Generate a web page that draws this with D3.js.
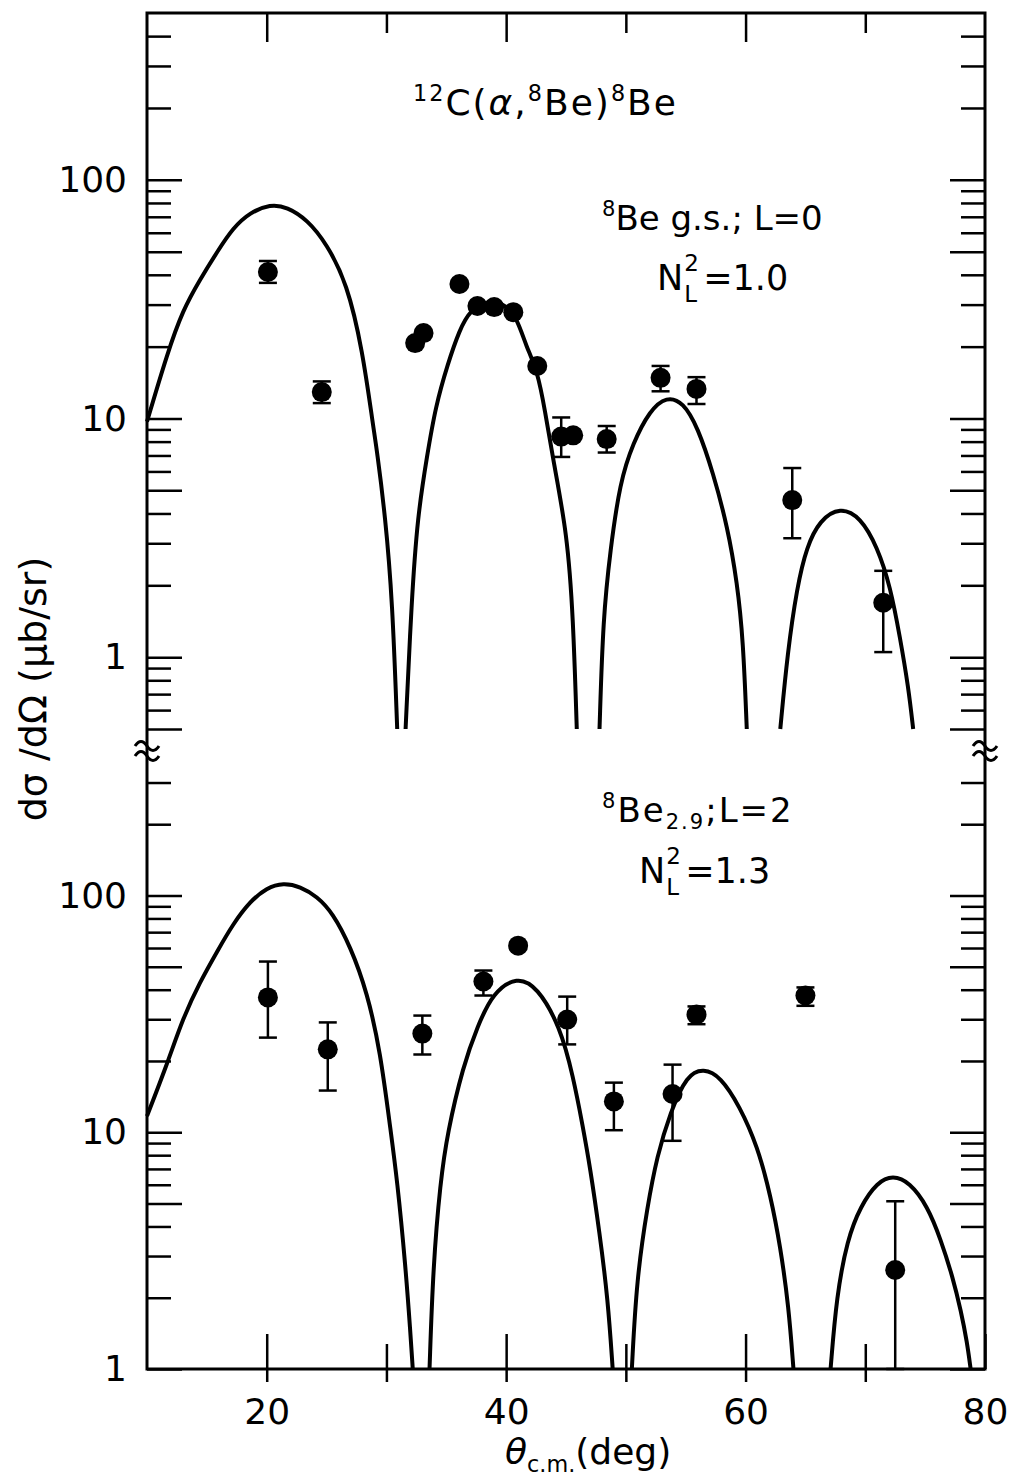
<!DOCTYPE html>
<html>
<head>
  <meta charset="UTF-8">
  <style>
    body { margin: 0; background: #fff; }
    svg { display: block; background: #fff; }
    text { font-family: "DejaVu Sans", sans-serif; fill: #000; }
  </style>
  <title>12C(a,8Be)8Be</title>
</head>
<body>
<svg></svg>
<script src="https://d3js.org/d3.v7.min.js"></script>

<script>

let width = 1020, height = 1484;

// axis ticks
const xTickValues = [20, 30, 40, 50, 60, 70, 80];
const xTickLabels = ["20", "", "40", "", "60", "", "80"];
const topTicks = [400, 300, 200, 100, 90, 80, 70, 60, 50, 40, 30, 20, 10, 9, 8, 7, 6, 5, 4, 3, 2, 1, 0.9, 0.8, 0.7, 0.6, 0.5];
const botTicks = [300, 200, 100, 90, 80, 70, 60, 50, 40, 30, 20, 10, 9, 8, 7, 6, 5, 4, 3, 2, 1];
const majorTicks = [100, 50, 10, 5, 1, 0.5];
const labelTicks = [100, 10, 1];

// 8Be g.s., L=0 : measured cross sections (deg, ub/sr)
const gsAngle   = [20.1, 24.6, 32.4, 33.1, 36.1, 37.6, 39.0, 40.6, 42.6, 44.6, 45.6, 48.4, 52.9, 55.9, 63.9, 71.5];
const gsSigma   = [41.1, 12.9, 20.7, 22.8, 36.6, 29.6, 29.3, 27.9, 16.6, 8.4, 8.5, 8.2, 14.8, 13.3, 4.55, 1.69];
const gsErrLow  = [37.0, 11.6, null, null, null, null, null, null, null, 6.9, null, 7.2, 13.0, 11.5, 3.15, 1.05];
const gsErrHigh = [45.7, 14.3, null, null, null, null, null, null, null, 10.1, null, 9.3, 16.6, 14.9, 6.2, 2.3];

// 8Be g.s. DWBA curve, one array per lobe [deg, ub/sr]
const gsCurve1 = [[10.0, 9.7], [11.7, 18.8], [13.0, 28.5], [14.4, 38.0], [15.9, 50.3], [17.2, 63], [18.6, 73], [20.3, 79], [21.7, 77], [23.4, 68], [25.0, 54], [26.7, 37], [28.0, 19.4], [28.9, 9.2], [29.2, 7.4], [29.9, 3.9], [30.5, 1.73], [30.9, 0.5]];
const gsCurve2 = [[31.6, 0.5], [32.1, 1.73], [32.6, 3.9], [33.4, 7.0], [34.1, 11.2], [35.1, 16.8], [36.1, 23.5], [37.0, 28.5], [38.5, 31.3], [39.9, 30.2], [40.9, 26.4], [41.7, 19.9], [42.6, 15.9], [43.25, 10.8], [43.9, 6.8], [45.1, 3.3], [45.6, 1.47], [45.9, 0.5]];
const gsCurve3 = [[47.8, 0.5], [48.1, 1.47], [48.7, 2.8], [49.5, 5.4], [50.6, 7.9], [52.0, 10.8], [53.4, 12.4], [54.8, 11.7], [56.0, 9.2], [57.3, 5.9], [58.5, 3.5], [59.3, 2.05], [59.8, 1.18], [60.1, 0.5]];
const gsCurve4 = [[62.9, 0.5], [63.5, 1.04], [64.3, 1.97], [65.1, 2.9], [66.2, 3.75], [67.9, 4.26], [69.6, 3.86], [71.0, 2.9], [72.1, 1.97], [72.9, 1.21], [73.6, 0.75], [74.0, 0.5]];

// 8Be 2.9 MeV, L=2 : measured cross sections
const exAngle   = [20.1, 25.1, 33.0, 38.1, 41.0, 45.1, 49.0, 53.9, 55.9, 65.0, 72.5];
const exSigma   = [37.1, 22.4, 26.1, 43.3, 61.4, 29.9, 13.5, 14.5, 31.4, 37.8, 2.62];
const exErrLow  = [25.1, 15.0, 21.3, 37.8, null, 23.5, 10.2, 9.2, 28.6, 34.2, 1.0];
const exErrHigh = [52.6, 29.1, 31.1, 48.2, null, 37.4, 16.2, 19.3, 34.0, 40.9, 5.11];

// 8Be 2.9 DWBA curve
const exCurve1 = [[10.0, 11.7], [11.7, 19.5], [13.0, 30.3], [14.4, 42.9], [15.9, 58.5], [17.2, 76.0], [18.6, 94.2], [20.0, 107.9], [21.4, 113], [22.8, 109], [24.2, 99], [25.5, 84.6], [27.0, 60.8], [28.4, 38.9], [29.5, 21.7], [30.3, 10.6], [30.9, 6.3], [31.6, 2.7], [32.0, 1.43], [32.2, 1.0]];
const exCurve2 = [[33.6, 1.0], [33.9, 2.72], [34.5, 6.15], [35.1, 10.0], [36.4, 19.0], [37.6, 28.0], [38.9, 38.9], [40.9, 45.5], [42.6, 41.2], [44.5, 28.0], [45.6, 17.2], [46.4, 10.6], [47.0, 7.18], [47.8, 3.78], [48.5, 1.97], [48.9, 1.0]];
const exCurve3 = [[50.5, 1.0], [50.9, 2.4], [51.8, 4.87], [52.6, 7.91], [53.7, 12.1], [55.1, 17.5], [56.5, 18.6], [57.9, 17.2], [59.5, 12.9], [61.0, 8.72], [62.1, 5.37], [62.9, 3.3], [63.6, 1.84], [64.0, 1.0]];
const exCurve4 = [[67.1, 1.0], [67.6, 2.03], [68.5, 3.53], [69.6, 4.87], [71.0, 6.15], [72.3, 6.58], [73.7, 6.15], [75.2, 4.87], [76.3, 3.53], [77.3, 2.45], [78.0, 1.75], [78.5, 1.3], [78.8, 1.0]];

let svg = d3.select("svg")
    .attr("width", width)
    .attr("height", height);

let x = d3.scaleLinear().domain([10, 80]).range([147, 985]);
let yTop = d3.scaleLog().domain([0.5, 500]).range([729, 13]);
let yBot = d3.scaleLog().domain([1, 500]).range([1369, 730]);

// frame
svg.append("rect")
    .attr("x", x(10)).attr("y", yTop(500))
    .attr("width", x(80) - x(10)).attr("height", yBot(1) - yTop(500))
    .attr("fill", "none").attr("stroke", "black").attr("stroke-width", 3);

// y axes, ticks pointing inward
function yAxis(scale, ticks, side) {
    let left = side == "left";
    let ax = (left ? d3.axisLeft(scale) : d3.axisRight(scale))
        .tickValues(ticks)
        .tickSize(-24)
        .tickPadding(20)
        .tickFormat(d => left && labelTicks.includes(d) ? d : "");
    let g = svg.append("g")
        .attr("transform", "translate(" + (left ? x(10) : x(80)) + ",0)")
        .call(ax)
        .attr("font-size", 36)
        .attr("font-family", null);
    g.select(".domain").remove();
    g.selectAll(".tick line")
        .attr("x2", d => (majorTicks.includes(d) ? 35 : 24) * (left ? 1 : -1))
        .attr("stroke-width", 2.5);
}
yAxis(yTop, topTicks, "left");
yAxis(yTop, topTicks, "right");
yAxis(yBot, botTicks, "left");
yAxis(yBot, botTicks, "right");

// bottom x axis
let xb = svg.append("g")
    .attr("transform", "translate(0," + yBot(1) + ")")
    .call(d3.axisBottom(x).tickValues(xTickValues).tickFormat((d, i) => xTickLabels[i]))
    .attr("font-size", 36)
    .attr("font-family", null);
xb.select(".domain").remove();
xb.selectAll(".tick line")
    .attr("y1", d => d == 80 ? 0 : 13)
    .attr("y2", d => d % 20 == 0 ? -35 : -25)
    .attr("stroke-width", 2.5);
xb.selectAll(".tick text").attr("y", 55).attr("dy", 0);

// top x axis
let xt = svg.append("g")
    .attr("transform", "translate(0," + yTop(500) + ")")
    .call(d3.axisTop(x).tickValues(xTickValues.slice(0, 6)).tickFormat(""));
xt.select(".domain").remove();
xt.selectAll(".tick line")
    .attr("y2", d => d % 20 == 0 ? 29 : 20)
    .attr("stroke-width", 2.5);

// axis breaks
[x(10), x(80)].forEach(cx => {
    [-5, 5].forEach(off => {
        svg.append("path")
            .attr("d", "M" + (cx - 12) + "," + (751 + off) + " q6,-9 12,0 t12,0")
            .attr("fill", "none").attr("stroke", "black").attr("stroke-width", 3);
    });
});

// theory curves
function drawCurves(lobes, y) {
    let line = d3.line()
        .x(d => x(d[0]))
        .y(d => y(d[1]))
        .curve(d3.curveBasis);
    svg.append("g")
        .selectAll("path")
        .data(lobes)
        .enter()
        .append("path")
        .attr("d", line)
        .attr("fill", "none")
        .attr("stroke", "black")
        .attr("stroke-width", 4);
}
drawCurves([gsCurve1, gsCurve2, gsCurve3, gsCurve4], yTop);
drawCurves([exCurve1, exCurve2, exCurve3, exCurve4], yBot);

// data points with error bars
function drawPoints(angle, sigma, lo, hi, y) {
    let pts = angle.map((a, i) => ({a: a, s: sigma[i], lo: lo[i], hi: hi[i]}));
    let g = svg.append("g");
    let bars = pts.filter(d => d.lo != null);
    g.selectAll("line.bar").data(bars).enter().append("line")
        .attr("x1", d => x(d.a)).attr("x2", d => x(d.a))
        .attr("y1", d => y(d.hi)).attr("y2", d => y(d.lo))
        .attr("stroke", "black").attr("stroke-width", 2.5);
    ["lo", "hi"].forEach(k => {
        g.selectAll("line.cap" + k).data(bars).enter().append("line")
            .attr("x1", d => x(d.a) - 9).attr("x2", d => x(d.a) + 9)
            .attr("y1", d => y(d[k])).attr("y2", d => y(d[k]))
            .attr("stroke", "black").attr("stroke-width", 2.5);
    });
    g.selectAll("circle").data(pts).enter().append("circle")
        .attr("cx", d => x(d.a))
        .attr("cy", d => y(d.s))
        .attr("r", 10)
        .attr("fill", "black");
}
drawPoints(gsAngle, gsSigma, gsErrLow, gsErrHigh, yTop);
drawPoints(exAngle, exSigma, exErrLow, exErrHigh, yBot);

// text with super/subscripts
function richText(px, py, size, parts, spacing) {
    let t = svg.append("text")
        .attr("x", px).attr("y", py)
        .attr("font-size", size)
        .attr("letter-spacing", spacing || 0);
    let shift = 0;
    parts.forEach(p => {
        let s = p[1] == "sup" ? -0.4 * size : p[1] == "sub" ? 0.22 * size : 0;
        let ts = t.append("tspan")
            .attr("dy", s - shift)
            .attr("font-size", p[1] ? size * 0.62 : size)
            .text(p[0]);
        if (p[2]) ts.attr("font-style", "italic");
        shift = s;
    });
    return t;
}

// N_L^2 = value with stacked indices
function nLabel(px, py, size, value) {
    let n = svg.append("text").attr("x", px).attr("y", py).attr("font-size", size).text("N");
    let w = n.node().getComputedTextLength();
    svg.append("text").attr("x", px + w + 1).attr("y", py - 19).attr("font-size", 23).text("2");
    svg.append("text").attr("x", px + w + 1).attr("y", py + 12).attr("font-size", 23).text("L");
    svg.append("text").attr("x", px + w + 20).attr("y", py).attr("font-size", size).text("=" + value);
}

richText(413, 115, 36, [["12", "sup"], ["C(", ""], ["α", "", true], [",", ""], ["8", "sup"], ["Be)", ""], ["8", "sup"], ["Be", ""]], 2);
richText(602, 230, 34, [["8", "sup"], ["Be g.s.; L=0", ""]]);
nLabel(657, 290, 35, "1.0");
richText(602, 822, 34, [["8", "sup"], ["Be", ""], ["2.9", "sub"], [";L=2", ""]], 2);
nLabel(639, 883, 35, "1.3");

// axis titles
richText(505, 1464, 36, [["θ", "", true], ["c.m.", "sub"], ["(deg)", ""]]);
svg.append("text")
    .attr("transform", "translate(46,689) rotate(-90)")
    .attr("text-anchor", "middle")
    .attr("font-size", 38)
    .text("dσ /dΩ (μb/sr)");

</script>

</body>
</html>
